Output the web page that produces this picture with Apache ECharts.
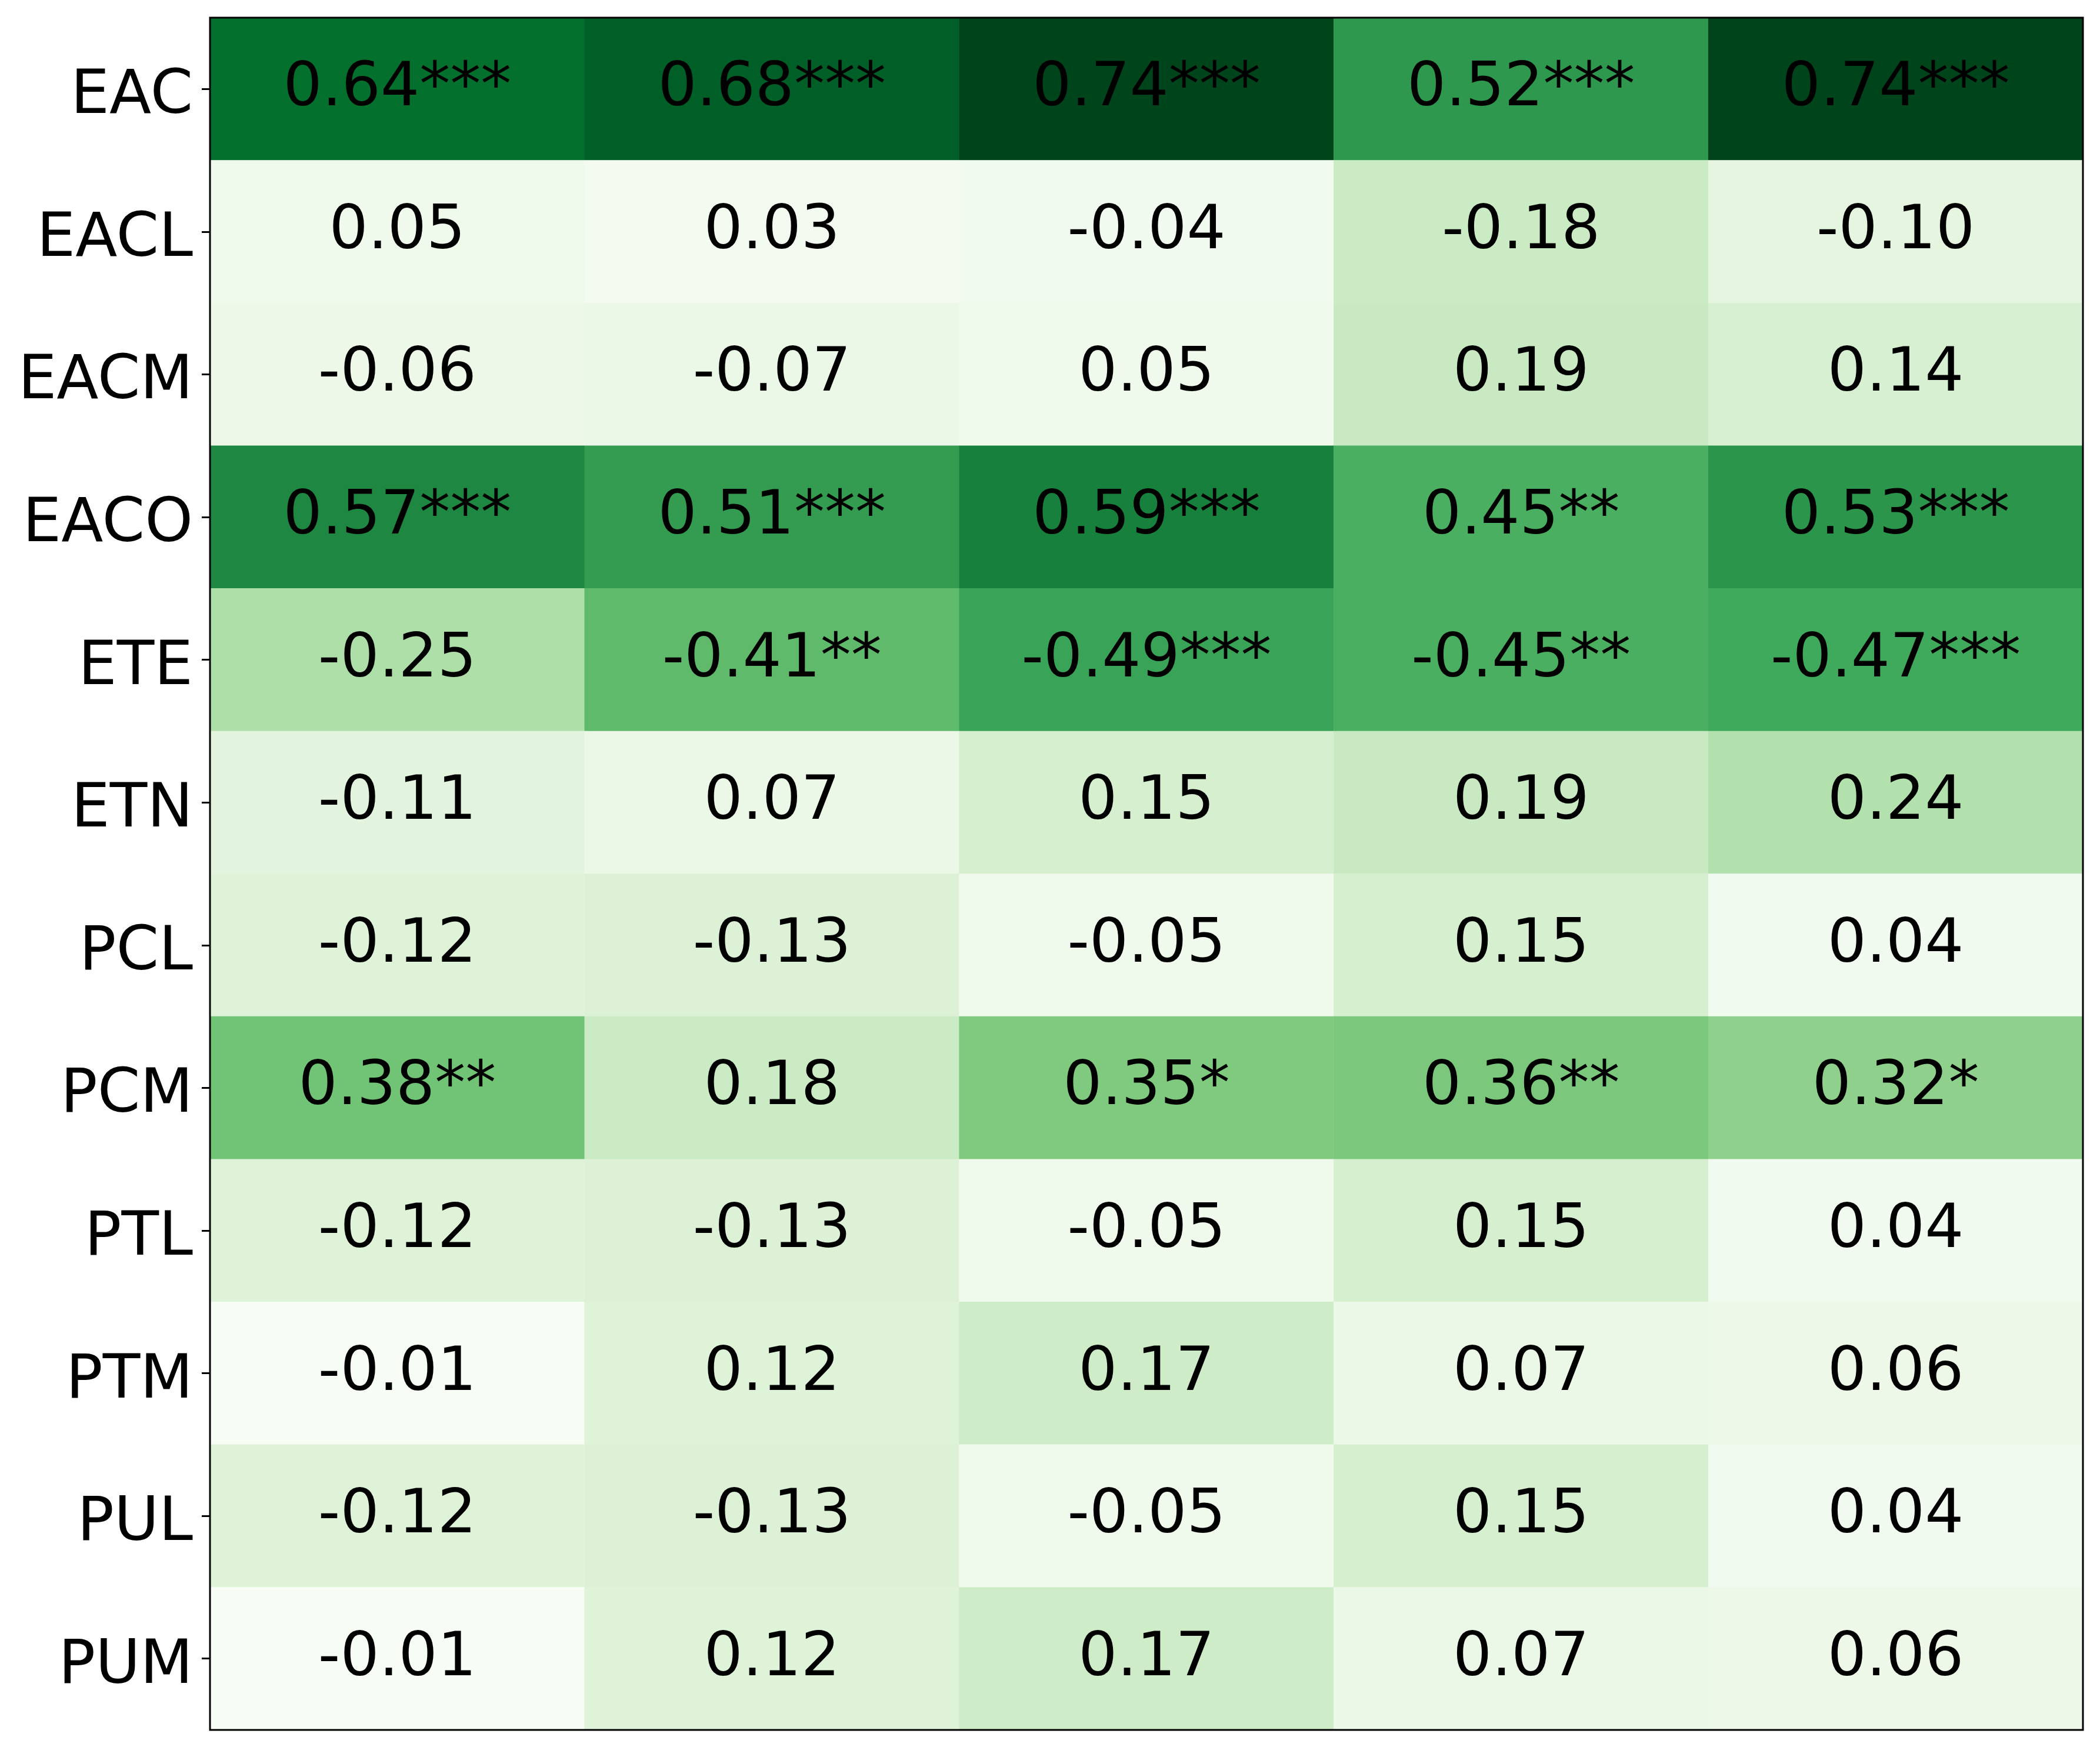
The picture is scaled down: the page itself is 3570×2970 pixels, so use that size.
<!DOCTYPE html>
<html>
<head>
<meta charset="utf-8">
<script src="https://cdn.jsdelivr.net/npm/echarts@6/dist/echarts.min.js"></script>
<style>
  html, body { margin: 0; padding: 0; background: #ffffff; }
  #chart { width: 3570px; height: 2970px; }
</style>
</head>
<body>
<div id="chart"></div>
<script>
// Row categories (top to bottom) and column categories (unlabelled in the figure)
const rowNames = ['EAC', 'EACL', 'EACM', 'EACO', 'ETE', 'ETN', 'PCL', 'PCM', 'PTL', 'PTM', 'PUL', 'PUM'];
const colNames = ['C1', 'C2', 'C3', 'C4', 'C5'];

// Correlation values, one array per row
const values = [
  [0.64, 0.68, 0.74, 0.52, 0.74],
  [0.05, 0.03, -0.04, -0.18, -0.10],
  [-0.06, -0.07, 0.05, 0.19, 0.14],
  [0.57, 0.51, 0.59, 0.45, 0.53],
  [-0.25, -0.41, -0.49, -0.45, -0.47],
  [-0.11, 0.07, 0.15, 0.19, 0.24],
  [-0.12, -0.13, -0.05, 0.15, 0.04],
  [0.38, 0.18, 0.35, 0.36, 0.32],
  [-0.12, -0.13, -0.05, 0.15, 0.04],
  [-0.01, 0.12, 0.17, 0.07, 0.06],
  [-0.12, -0.13, -0.05, 0.15, 0.04],
  [-0.01, 0.12, 0.17, 0.07, 0.06]
];

// Significance markers, one array per row
const stars = [
  ['***', '***', '***', '***', '***'],
  ['', '', '', '', ''],
  ['', '', '', '', ''],
  ['***', '***', '***', '**', '***'],
  ['', '**', '***', '**', '***'],
  ['', '', '', '', ''],
  ['', '', '', '', ''],
  ['**', '', '*', '**', '*'],
  ['', '', '', '', ''],
  ['', '', '', '', ''],
  ['', '', '', '', ''],
  ['', '', '', '', '']
];

// matplotlib "Greens" colour stops
const greens = ['#f7fcf5', '#e5f5e0', '#c7e9c0', '#a1d99b', '#74c476', '#41ab5d', '#238b45', '#006d2c', '#00441b'];

const data = [];
let absMin = Infinity, absMax = -Infinity;
values.forEach((row, r) => {
  row.forEach((v, c) => {
    const a = Math.abs(v);
    absMin = Math.min(absMin, a);
    absMax = Math.max(absMax, a);
    data.push([c, r, v, a, stars[r][c]]);
  });
});

const FONT = 'DejaVu Sans';
const chart = echarts.init(document.getElementById('chart'), null, { renderer: 'canvas' });
chart.setOption({
  animation: false,
  backgroundColor: '#ffffff',
  grid: {
    left: 357, right: 29, top: 30, bottom: 29,
    show: true, z: 10,
    backgroundColor: 'transparent',
    borderColor: '#000000', borderWidth: 3
  },
  xAxis: {
    type: 'category',
    data: colNames,
    axisLine: { show: false },
    axisTick: { show: false },
    axisLabel: { show: false },
    splitLine: { show: false }
  },
  yAxis: {
    type: 'category',
    data: rowNames,
    inverse: true,
    axisLine: { show: false },
    axisTick: { show: true, alignWithLabel: true, length: 14, lineStyle: { color: '#000000', width: 3 } },
    axisLabel: {
      fontFamily: FONT, fontSize: 104, color: '#000000', margin: 29,
      verticalAlign: 'top', lineHeight: 28
    },
    splitLine: { show: false }
  },
  visualMap: {
    type: 'continuous',
    show: false,
    dimension: 3,
    min: absMin,
    max: absMax,
    inRange: { color: greens }
  },
  series: [{
    type: 'heatmap',
    data: data,
    encode: { x: 0, y: 1 },
    itemStyle: { borderWidth: 0 },
    label: {
      show: true,
      fontFamily: FONT,
      fontSize: 104,
      color: '#000000',
      offset: [0, 1],
      formatter: p => p.value[2].toFixed(2) + p.value[4]
    },
    emphasis: { disabled: true }
  }]
});
</script>
</body>
</html>
